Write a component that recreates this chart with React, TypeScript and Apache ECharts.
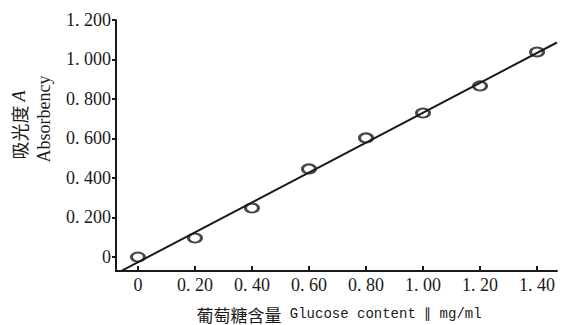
import React, { useEffect, useRef } from "react";
import * as echarts from "echarts";

const glucose = [0, 0.2, 0.4, 0.6, 0.8, 1.0, 1.2, 1.4];
const absorbency = [0.0, 0.096, 0.248, 0.446, 0.603, 0.729, 0.866, 1.038];
const xTicks = [0, 0.2, 0.4, 0.6, 0.8, 1.0, 1.2, 1.4];
const yTicks = [0, 0.2, 0.4, 0.6, 0.8, 1.0, 1.2];

const X_MIN = -0.077;
const X_MAX = 1.47;
const Y_MIN = -0.071;
const Y_MAX = 1.2;

function fit(xs: number[], ys: number[]) {
  const n = xs.length;
  const mx = xs.reduce((a, b) => a + b, 0) / n;
  const my = ys.reduce((a, b) => a + b, 0) / n;
  let sxy = 0;
  let sxx = 0;
  for (let i = 0; i < n; i++) {
    sxy += (xs[i] - mx) * (ys[i] - my);
    sxx += (xs[i] - mx) * (xs[i] - mx);
  }
  const slope = sxy / sxx;
  return { slope, intercept: my - slope * mx };
}

const fmtX = (v: number) => (v === 0 ? "0" : v.toFixed(2).replace(".", ". "));
const fmtY = (v: number) => (v === 0 ? "0" : v.toFixed(3).replace(".", ". "));

export default function App() {
  const ref = useRef<HTMLDivElement>(null);
  useEffect(() => {
    if (!ref.current) return;
    const chart = echarts.init(ref.current, undefined, { renderer: "svg" });
    const { slope, intercept } = fit(glucose, absorbency);
    const lineData = [
      [X_MIN, intercept + slope * X_MIN],
      [X_MAX, intercept + slope * X_MAX],
    ];
    const serif = "Liberation Serif";
    const cjk = "Noto Sans CJK SC";
    const ink = "#1a1a1a";
    chart.setOption({
      animation: false,
      backgroundColor: "#ffffff",
      grid: { left: 116, right: 4, top: 20, bottom: 54 },
      xAxis: {
        type: "value",
        min: X_MIN,
        max: X_MAX,
        splitLine: { show: false },
        axisLine: { show: true, onZero: false, lineStyle: { color: ink, width: 2 } },
        axisTick: {
          show: true,
          inside: true,
          length: 5,
          customValues: xTicks,
          lineStyle: { color: ink, width: 2 },
        },
        axisLabel: {
          customValues: xTicks,
          formatter: fmtX,
          fontFamily: serif,
          fontSize: 18,
          color: ink,
          margin: 5,
        },
      },
      yAxis: {
        type: "value",
        min: Y_MIN,
        max: Y_MAX,
        splitLine: { show: false },
        axisLine: { show: true, onZero: false, lineStyle: { color: ink, width: 2 } },
        axisTick: {
          show: true,
          length: 4,
          customValues: yTicks,
          lineStyle: { color: ink, width: 2 },
        },
        axisLabel: {
          customValues: yTicks,
          formatter: fmtY,
          fontFamily: serif,
          fontSize: 18,
          color: ink,
          margin: 5,
        },
      },
      series: [
        {
          type: "line",
          data: lineData,
          symbol: "none",
          clip: true,
          lineStyle: { color: ink, width: 2 },
          z: 2,
        },
        {
          type: "scatter",
          data: glucose.map((g, i) => [g, absorbency[i]]),
          symbol: "circle",
          symbolSize: [13, 9],
          itemStyle: { color: "transparent", borderColor: ink, borderWidth: 2.5 },
          z: 3,
        },
      ],
      graphic: [
        {
          type: "text",
          x: 19,
          y: 125,
          rotation: Math.PI / 2,
          style: {
            text: "{cn|吸光度 }{it|A}",
            align: "center",
            verticalAlign: "middle",
            fill: ink,
            rich: {
              cn: { fontFamily: cjk, fontSize: 18, fill: ink },
              it: { fontFamily: serif, fontSize: 18, fontStyle: "italic", fill: ink },
            },
          },
        },
        {
          type: "text",
          x: 44,
          y: 119,
          rotation: Math.PI / 2,
          style: {
            text: "Absorbency",
            align: "center",
            verticalAlign: "middle",
            fill: ink,
            fontFamily: serif,
            fontSize: 18,
          },
        },
        {
          type: "text",
          x: 339,
          y: 314,
          style: {
            text: "{cn|葡萄糖含量}{en| Glucose content ∥ mg/ml}",
            align: "center",
            verticalAlign: "middle",
            fill: ink,
            rich: {
              cn: { fontFamily: cjk, fontSize: 17, fill: ink },
              en: { fontFamily: "Liberation Mono", fontSize: 14, fill: ink },
            },
          },
        },
      ],
    });
    return () => chart.dispose();
  }, []);
  return (
    <div
      ref={ref}
      style={{ position: "fixed", left: 0, top: 0, width: 561, height: 325 }}
    />
  );
}
